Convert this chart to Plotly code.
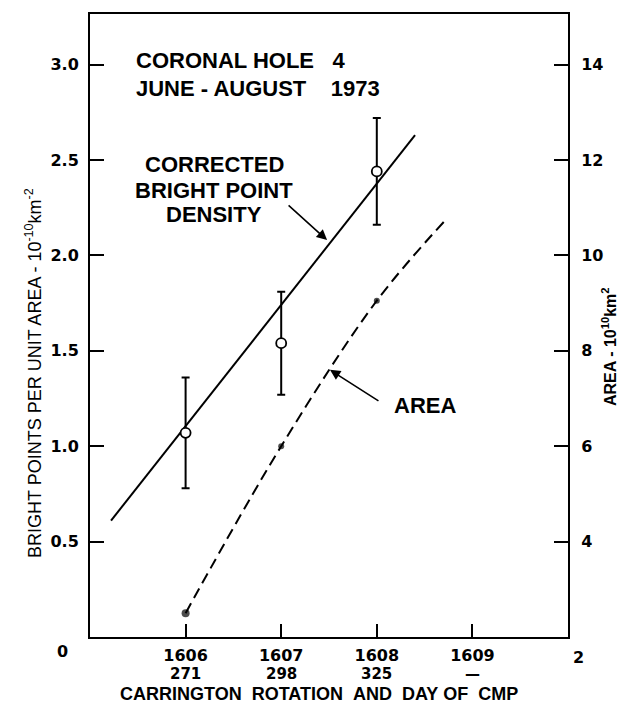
import plotly.graph_objects as go

# ---- data ----
rotations = [1606, 1607, 1608]
rotation_ticks = [1606, 1607, 1608, 1609]
rotation_labels = ["1606", "1607", "1608", "1609"]
cmp_days = ["271", "298", "325", "\u2014"]

density = [1.07, 1.54, 2.44]
density_err = [0.29, 0.27, 0.28]
density_fit_x = [1605.22, 1608.40]
density_fit_y = [0.61, 2.63]

area = [2.5, 6.0, 9.05]
area_curve_x = [1606, 1607, 1608, 1608.7]
area_curve_y = [2.5, 6.0, 9.05, 10.7]

left_ticks = [0.5, 1.0, 1.5, 2.0, 2.5, 3.0]
left_ticklabels = ["0.5", "1.0", "1.5", "2.0", "2.5", "3.0"]
right_ticks = [4, 6, 8, 10, 12, 14]

TXT = "Liberation Sans"
TICK = "DejaVu Sans"
NB = "\u00a0"

fig = go.Figure()

fig.add_trace(go.Scatter(
    x=density_fit_x, y=density_fit_y, mode="lines",
    line=dict(color="black", width=2), showlegend=False, hoverinfo="skip"))

fig.add_trace(go.Scatter(
    x=rotations, y=density, mode="markers",
    marker=dict(symbol="circle", size=10, color="white",
                line=dict(color="black", width=1.8)),
    error_y=dict(type="data", array=density_err, visible=True,
                 color="black", thickness=2, width=4),
    showlegend=False))

fig.add_trace(go.Scatter(
    x=area_curve_x, y=area_curve_y, yaxis="y2", mode="lines",
    line=dict(color="black", width=2, dash="11px,6px", shape="spline"),
    showlegend=False, hoverinfo="skip"))

fig.add_trace(go.Scatter(
    x=rotations, y=area, yaxis="y2", mode="markers",
    marker=dict(color="black", size=[8, 6, 6], line=dict(width=0)), showlegend=False))

annotations = []
BIG = dict(family=TXT, size=22, color="black", weight="bold")
# top-left title
annotations.append(dict(text="CORONAL HOLE" + NB * 3 + "4", xref="paper", yref="paper",
                        x=(134 - 90) / 478, y=(637 - 60) / 623, xanchor="left", yanchor="middle",
                        showarrow=False, font=BIG))
annotations.append(dict(text="JUNE - AUGUST" + NB * 4 + "1973", xref="paper", yref="paper",
                        x=(134 - 90) / 478, y=(637 - 88) / 623, xanchor="left", yanchor="middle",
                        showarrow=False, font=BIG))
# corrected density label
for txt, py in [("CORRECTED", 165), ("BRIGHT POINT", 190), ("DENSITY", 214)]:
    annotations.append(dict(text=txt, xref="paper", yref="paper",
                            x=(214 - 90) / 478, y=(637 - py) / 623,
                            xanchor="center", yanchor="middle", showarrow=False, font=BIG))
# arrow to density line
annotations.append(dict(text="", x=1607.48, y=2.08, xref="x", yref="y",
                        ax=-40, ay=-36, showarrow=True, arrowhead=2, arrowsize=1.3,
                        arrowwidth=1.6, arrowcolor="black", standoff=0))
# AREA label + arrow
annotations.append(dict(text="AREA", xref="x", yref="paper", x=1608.16, y=(637 - 405) / 623,
                        xanchor="left", yanchor="middle", showarrow=False, font=BIG))
annotations.append(dict(text="", x=1607.51, y=7.6, xref="x", yref="y2",
                        ax=50, ay=32, showarrow=True, arrowhead=2, arrowsize=1.3,
                        arrowwidth=1.6, arrowcolor="black", standoff=0))
# day-of-CMP row under the rotation numbers
for xv, d in zip(rotation_ticks, cmp_days):
    annotations.append(dict(text=d, xref="x", yref="paper", x=xv, y=(637 - 674) / 623,
                            xanchor="center", yanchor="middle", showarrow=False,
                            font=dict(family=TICK, size=15, color="black", weight="bold")))
# x axis title
annotations.append(dict(text="CARRINGTON" + NB * 2 + "ROTATION" + NB * 2 + "AND" + NB * 2 + "DAY" + NB + "OF" + NB * 2 + "CMP",
                        xref="paper", yref="paper", x=(319 - 90) / 478, y=(637 - 694) / 623,
                        xanchor="center", yanchor="middle", showarrow=False,
                        font=dict(family=TXT, size=18, color="black", weight="bold")))
# corner zero labels
annotations.append(dict(text="0", xref="paper", yref="paper", x=(62 - 90) / 478, y=(637 - 651) / 623,
                        xanchor="center", yanchor="middle", showarrow=False,
                        font=dict(family=TICK, size=16, color="black", weight="bold")))
annotations.append(dict(text="2", xref="paper", yref="paper", x=(578 - 90) / 478, y=(637 - 657) / 623,
                        xanchor="center", yanchor="middle", showarrow=False,
                        font=dict(family=TICK, size=16, color="black", weight="bold")))
# y axis titles
annotations.append(dict(text="BRIGHT POINTS PER UNIT AREA - 10<sup>-10</sup>km<sup>-2</sup>",
                        xref="paper", yref="paper", x=(33 - 90) / 478, y=(637 - 373) / 623,
                        xanchor="center", yanchor="middle", textangle=-90, showarrow=False,
                        font=dict(family=TXT, size=18, color="black")))
annotations.append(dict(text="AREA - 10<sup>10</sup>km<sup>2</sup>",
                        xref="paper", yref="paper", x=(609 - 90) / 478, y=(637 - 347) / 623,
                        xanchor="center", yanchor="middle", textangle=-90, showarrow=False,
                        font=dict(family=TXT, size=16, color="black", weight="bold")))

fig.update_layout(
    width=621, height=719,
    margin=dict(l=90, r=53, t=14, b=82),
    paper_bgcolor="white", plot_bgcolor="white",
    showlegend=False,
    annotations=annotations,
    xaxis=dict(range=[1605, 1610], tickvals=rotation_ticks, ticktext=rotation_labels,
               ticks="inside", ticklen=13, tickwidth=1.5, tickcolor="black",
               showline=True, linewidth=2, linecolor="black", mirror=True,
               showgrid=False, zeroline=False, ticklabelstandoff=3,
               tickfont=dict(family=TICK, size=16, color="black", weight="bold")),
    yaxis=dict(range=[0, 3.265], tickvals=left_ticks, ticktext=left_ticklabels,
               ticks="inside", ticklen=14, tickwidth=1.5, tickcolor="black",
               showline=True, linewidth=2, linecolor="black",
               showgrid=False, zeroline=False, ticklabelstandoff=6,
               tickfont=dict(family=TICK, size=16, color="black", weight="bold")),
    yaxis2=dict(range=[2, 15.06], tickvals=right_ticks, overlaying="y", side="right",
                ticks="inside", ticklen=14, tickwidth=1.5, tickcolor="black",
                showline=True, linewidth=2, linecolor="black",
                showgrid=False, zeroline=False, ticklabelstandoff=8,
                tickfont=dict(family=TICK, size=16, color="black", weight="bold")),
)

fig.write_html("out.html")
